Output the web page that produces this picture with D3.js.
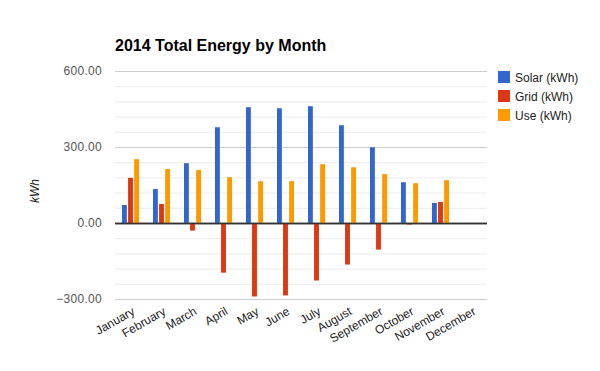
<!DOCTYPE html>
<html>
<head>
<meta charset="utf-8">
<script src="https://cdn.jsdelivr.net/npm/d3@7"></script>
<style>
  body { margin: 0; background: #fff; }
  text { font-family: Arial, "Liberation Sans", sans-serif; }
</style>
</head>
<body>
<div id="chart"></div>
<script>
// data
const months = ["January", "February", "March", "April", "May", "June",
    "July", "August", "September", "October", "November", "December"];
const seriesNames = ["Solar (kWh)", "Grid (kWh)", "Use (kWh)"];
const solar = [71, 134, 236, 378, 457, 453, 461, 386, 299, 161, 79, 0];
const grid = [178, 75, -30, -196, -290, -286, -227, -164, -105, -6, 83, 0];
const use = [252, 213, 209, 181, 165, 165, 232, 220, 193, 157, 169, 0];
const yTicks = [-300, 0, 300, 600];
const colors = ["#3366cc", "#dc3912", "#ff9900"];

const W = 600, H = 371;
const plotL = 115, plotR = 487, plotT = 71, plotB = 299;

const svg = d3.select("#chart").append("svg")
    .attr("width", W).attr("height", H);

const rows = months.map((m, i) => ({month: m, vals: [solar[i], grid[i], use[i]]}));

const x = d3.scaleBand().domain(months).range([plotL, plotR]).paddingInner(0.45).paddingOuter(0.225);
const xs = d3.scaleBand().domain(d3.range(3)).range([0, x.bandwidth()]).paddingInner(0.2);
const y = d3.scaleLinear().domain([-300, 600]).range([plotB, plotT]);

// minor grid lines
svg.append("g").selectAll("line")
    .data(d3.range(-300, 601, 60).filter(v => yTicks.indexOf(v) < 0))
    .join("line")
    .attr("x1", plotL).attr("x2", plotR)
    .attr("y1", d => y(d) + 0.5).attr("y2", d => y(d) + 0.5)
    .attr("stroke", "#ebebeb");

// major grid + labels via axis
const yAxis = svg.append("g")
    .attr("transform", `translate(${plotL},0)`)
    .call(d3.axisLeft(y).tickValues(yTicks).tickFormat(d3.format(".2f"))
        .tickSize(-(plotR - plotL)).tickPadding(13));
yAxis.select(".domain").remove();
yAxis.selectAll(".tick line").attr("stroke", d => d === 0 ? "#333" : "#ccc")
    .attr("stroke-width", d => d === 0 ? 1.3 : 1);
yAxis.selectAll(".tick text").attr("fill", "#555").style("font-size", "12px")
    .style("letter-spacing", "0.3px");

// bars
svg.append("g").selectAll("g")
    .data(rows)
    .join("g")
    .attr("transform", d => `translate(${x(d.month)},0)`)
    .selectAll("rect")
    .data(d => d.vals)
    .join("rect")
    .attr("x", (d, i) => xs(i))
    .attr("width", xs.bandwidth())
    .attr("y", d => y(Math.max(0, d)))
    .attr("height", d => Math.abs(y(d) - y(0)))
    .attr("fill", (d, i) => colors[i]);

// redraw zero line on top
svg.append("line")
    .attr("x1", plotL).attr("x2", plotR)
    .attr("y1", y(0) + 0.5).attr("y2", y(0) + 0.5)
    .attr("stroke", "#333").attr("stroke-width", 1.3);

// x labels
const xAxis = svg.append("g")
    .attr("transform", `translate(0,${plotB + 11})`)
    .call(d3.axisBottom(x).tickSize(0).tickPadding(0));
xAxis.select(".domain").remove();
xAxis.selectAll(".tick text")
    .attr("fill", "#222")
    .style("font-size", "12px")
    .attr("text-anchor", "end")
    .attr("dy", "0.35em")
    .attr("transform", "translate(3,0) rotate(-30)");

// title
svg.append("text")
    .attr("x", plotL).attr("y", 51)
    .style("font-size", "16px").style("font-weight", "bold")
    .attr("fill", "#000")
    .text("2014 Total Energy by Month");

// y axis title
svg.append("text")
    .attr("transform", `translate(39,${(plotT + plotB) / 2 + 6}) rotate(-90)`)
    .attr("text-anchor", "middle")
    .style("font-size", "12px").style("font-style", "italic")
    .attr("fill", "#222")
    .text("kWh");

// legend
const legend = svg.append("g").selectAll("g")
    .data(seriesNames)
    .join("g")
    .attr("transform", (d, i) => `translate(498,${71 + i * 19})`);
legend.append("rect").attr("width", 12).attr("height", 12)
    .attr("fill", (d, i) => colors[i]);
legend.append("text").attr("x", 17).attr("y", 10.5)
    .style("font-size", "12px").attr("fill", "#222")
    .text(d => d);
</script>
</body>
</html>
